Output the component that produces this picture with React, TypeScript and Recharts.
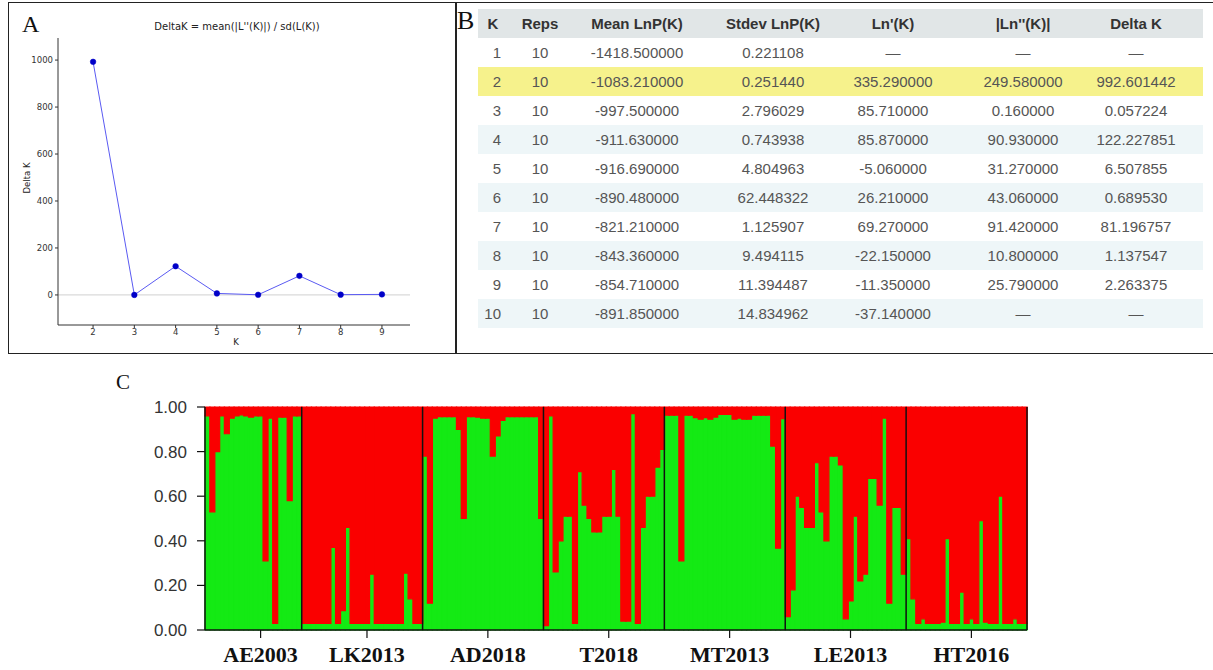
import React from "react";
import { LineChart, Line, XAxis, YAxis, ReferenceLine, BarChart, Bar } from "recharts";

// Evanno table (panel B) - also feeds panel A
const kValues = [1, 2, 3, 4, 5, 6, 7, 8, 9, 10];
const reps = [10, 10, 10, 10, 10, 10, 10, 10, 10, 10];
const meanLnP = [-1418.5, -1083.21, -997.5, -911.63, -916.69, -890.48, -821.21, -843.36, -854.71, -891.85];
const stdevLnP = [0.221108, 0.25144, 2.796029, 0.743938, 4.804963, 62.448322, 1.125907, 9.494115, 11.394487, 14.834962];
const lnPrime = [null, 335.29, 85.71, 85.87, -5.06, 26.21, 69.27, -22.15, -11.35, -37.14];
const lnDoublePrime = [null, 249.58, 0.16, 90.93, 31.27, 43.06, 91.42, 10.8, 25.79, null];
const deltaK = [null, 992.601442, 0.057224, 122.227851, 6.507855, 0.68953, 81.196757, 1.137547, 2.263375, null];
const highlightK = 2;

const deltaTicksX = [2, 3, 4, 5, 6, 7, 8, 9];
const deltaTicksY = [0, 200, 400, 600, 800, 1000];

// STRUCTURE K=2 membership (green cluster share per individual)
const populations = ["AE2003", "LK2013", "AD2018", "T2018", "MT2013", "LE2013", "HT2016"];
const ae2003 = [0.96, 0.53, 0.8, 0.96, 0.88, 0.95, 0.96, 0.965, 0.96, 0.955, 0.96, 0.96, 0.31, 0.95, 0.03, 0.955, 0.955, 0.58, 0.96, 0.96];
const lk2013 = [0.03, 0.03, 0.03, 0.03, 0.03, 0.03, 0.37, 0.03, 0.087, 0.46, 0.03, 0.03, 0.03, 0.03, 0.25, 0.03, 0.03, 0.03, 0.03, 0.03, 0.03, 0.255, 0.14, 0.03, 0.03];
const ad2018 = [0.78, 0.12, 0.95, 0.957, 0.957, 0.957, 0.957, 0.9, 0.5, 0.957, 0.957, 0.955, 0.95, 0.95, 0.78, 0.87, 0.94, 0.957, 0.957, 0.957, 0.957, 0.957, 0.957, 0.957, 0.5];
const t2018 = [0.02, 0.96, 0.26, 0.4, 0.51, 0.51, 0.03, 0.71, 0.56, 0.5, 0.44, 0.44, 0.51, 0.51, 0.72, 0.51, 0.04, 0.04, 0.97, 0.03, 0.46, 0.6, 0.6, 0.73, 0.81];
const mt2013 = [0.963, 0.963, 0.963, 0.31, 0.963, 0.963, 0.952, 0.945, 0.952, 0.945, 0.955, 0.967, 0.967, 0.967, 0.945, 0.95, 0.945, 0.945, 0.963, 0.963, 0.963, 0.963, 0.825, 0.367, 0.948];
const le2013 = [0.06, 0.18, 0.6, 0.55, 0.46, 0.46, 0.75, 0.53, 0.4, 0.78, 0.78, 0.74, 0.05, 0.13, 0.51, 0.22, 0.25, 0.68, 0.68, 0.56, 0.95, 0.12, 0.55, 0.55, 0.25];
const ht2016 = [0.41, 0.14, 0.03, 0.05, 0.03, 0.03, 0.03, 0.035, 0.41, 0.03, 0.03, 0.17, 0.03, 0.05, 0.03, 0.49, 0.035, 0.03, 0.03, 0.6, 0.03, 0.03, 0.05, 0.03, 0.03];
const membership = [ae2003, lk2013, ad2018, t2018, mt2013, le2013, ht2016];
const membershipTicks = [0, 0.2, 0.4, 0.6, 0.8, 1];

const GREEN = "#14ea14";
const RED = "#fa0000";
const serif = "'Liberation Serif', 'Times New Roman', serif";
const sans = "'Liberation Sans', Arial, sans-serif";
const mpl = "'DejaVu Sans', sans-serif";

const fmt = (v: number | null) => (v === null ? "\u2014" : v.toFixed(6));

function PanelLabel({ text, x, y, size }: { text: string; x: number; y: number; size: number }) {
  return (
    <div style={{ position: "absolute", left: x, top: y, fontFamily: serif, fontSize: size, lineHeight: 1, color: "#111" }}>
      {text}
    </div>
  );
}

function DeltaKPlot() {
  const data = kValues
    .map((k, i) => ({ k, delta: deltaK[i] }))
    .filter((d) => d.delta !== null);
  const tick = { fontSize: 8.5, fill: "#333", fontFamily: mpl };
  return (
    <div style={{ position: "absolute", left: 0, top: 0 }}>
      <LineChart width={456} height={353} data={data} margin={{ top: 38, right: 46, bottom: 8, left: 28 }}>
        <XAxis
          dataKey="k"
          type="number"
          domain={[1.15, 9.68]}
          ticks={deltaTicksX}
          allowDataOverflow
          height={20}
          axisLine={{ stroke: "#333" }}
          tickLine={{ stroke: "#333" }}
          tickSize={3}
          tickMargin={1}
          tick={tick}
        />
        <YAxis
          type="number"
          domain={[-128, 1094]}
          ticks={deltaTicksY}
          allowDataOverflow
          width={30}
          axisLine={{ stroke: "#333" }}
          tickLine={{ stroke: "#333" }}
          tickSize={3}
          tickMargin={2}
          tick={tick}
        />
        <ReferenceLine y={0} stroke="#dadada" strokeWidth={1.2} />
        <Line
          dataKey="delta"
          stroke="#5a5af2"
          strokeWidth={1}
          dot={{ r: 2.8, fill: "#0000c8", stroke: "#0000c8", strokeWidth: 0.5 }}
          isAnimationActive={false}
        />
      </LineChart>
      <div style={{ position: "absolute", left: 237, top: 21, transform: "translateX(-50%)", whiteSpace: "nowrap", fontFamily: mpl, fontSize: 10, color: "#222" }}>
        DeltaK = mean(|L''(K)|) / sd(L(K))
      </div>
      <div style={{ position: "absolute", left: 27, top: 178, transform: "translate(-50%, -50%) rotate(-90deg)", whiteSpace: "nowrap", fontFamily: mpl, fontSize: 8.5, color: "#222" }}>
        Delta K
      </div>
      <div style={{ position: "absolute", left: 236, top: 337, transform: "translateX(-50%)", fontFamily: mpl, fontSize: 8.5, color: "#222" }}>
        K
      </div>
    </div>
  );
}

const colCenters = [493, 540, 637, 773, 893, 1023, 1136];
const headers = ["K", "Reps", "Mean LnP(K)", "Stdev LnP(K)", "Ln'(K)", "|Ln''(K)|", "Delta K"];
const kColumnRight = 501;

function EvannoTable() {
  const rowH = 29;
  const left = 478;
  const width = 725;
  const cell = (text: string, cx: number, key: number, bold = false, rightEdge?: number) => (
    <div
      key={key}
      style={{
        position: "absolute",
        left: rightEdge !== undefined ? rightEdge - left : cx - left,
        top: 0,
        height: "100%",
        display: "flex",
        alignItems: "center",
        transform: rightEdge !== undefined ? "translateX(-100%)" : "translateX(-50%)",
        whiteSpace: "nowrap",
        fontWeight: bold ? 700 : 400,
        color: bold ? "#333" : "#555",
      }}
    >
      {text}
    </div>
  );
  return (
    <div style={{ position: "absolute", left, top: 9, width, fontFamily: sans, fontSize: 15 }}>
      <div style={{ position: "relative", height: rowH, background: "#e1e6e7" }}>
        {headers.map((h, i) => cell(h, colCenters[i], i, true))}
      </div>
      {kValues.map((k, r) => {
        const bg = k === highlightK ? "#f6f28c" : r % 2 === 1 ? "#eef6f8" : "#ffffff";
        const cells = [
          String(k),
          String(reps[r]),
          fmt(meanLnP[r]),
          fmt(stdevLnP[r]),
          fmt(lnPrime[r]),
          fmt(lnDoublePrime[r]),
          fmt(deltaK[r]),
        ];
        return (
          <div key={k} style={{ position: "relative", height: rowH, background: bg }}>
            {cells.map((c, i) => cell(c, colCenters[i], i, false, i === 0 ? kColumnRight : undefined))}
          </div>
        );
      })}
    </div>
  );
}

function StructurePlot() {
  const rows: { id: string; pop: string; green: number; red: number }[] = [];
  const firstIds: string[] = [];
  const tickIds: string[] = [];
  populations.forEach((pop, p) => {
    membership[p].forEach((g, i) => {
      const id = `${pop}-${i}`;
      if (i === 0) firstIds.push(id);
      if (i === Math.floor(membership[p].length / 2) + 1) tickIds.push(id);
      rows.push({ id, pop, green: g, red: 1 - g });
    });
  });
  const lastId = rows[rows.length - 1].id;

  return (
    <div style={{ position: "absolute", left: 100, top: 370 }}>
      <BarChart
        width={950}
        height={300}
        data={rows}
        barCategoryGap={0}
        barGap={0}
        margin={{ top: 37, right: 23, bottom: 0, left: 35 }}
      >
        <XAxis
          dataKey="id"
          ticks={tickIds}
          interval={0}
          height={40}
          tickFormatter={(v: string) => v.split("-")[0]}
          axisLine={{ stroke: "#111", strokeWidth: 1.5 }}
          tickLine={{ stroke: "#111", strokeWidth: 1.2 }}
          tickSize={8}
          tickMargin={8}
          tick={{ fontFamily: serif, fontWeight: 700, fontSize: 22, fill: "#111" }}
        />
        <YAxis
          type="number"
          domain={[0, 1]}
          ticks={membershipTicks}
          width={70}
          tickFormatter={(v: number) => v.toFixed(2)}
          axisLine={{ stroke: "#111", strokeWidth: 1.5 }}
          tickLine={{ stroke: "#111", strokeWidth: 1.2 }}
          tickSize={8}
          tickMargin={10}
          tick={{ fontFamily: sans, fontSize: 17, fill: "#333" }}
        />
        <Bar dataKey="green" stackId="q" fill={GREEN} stroke={GREEN} strokeWidth={1.2} isAnimationActive={false} />
        <Bar dataKey="red" stackId="q" fill={RED} stroke={RED} strokeWidth={1.2} isAnimationActive={false} />
        {firstIds.slice(1).map((id) => (
          <ReferenceLine key={id} x={id} position="start" stroke="#111" strokeWidth={1.5} />
        ))}
        <ReferenceLine x={lastId} position="end" stroke="#111" strokeWidth={1.5} />
      </BarChart>
    </div>
  );
}

export default function App() {
  return (
    <div style={{ position: "absolute", left: 0, top: 0, width: 1213, height: 670, background: "#fff", overflow: "hidden" }}>
      <div
        style={{
          position: "absolute",
          left: 8,
          top: 2,
          width: 1220,
          height: 350,
          borderTop: "1.5px solid #222",
          borderLeft: "1.5px solid #222",
          borderBottom: "1.5px solid #222",
        }}
      />
      <div style={{ position: "absolute", left: 455, top: 2, width: 1.5, height: 352, background: "#222" }} />
      <DeltaKPlot />
      <EvannoTable />
      <StructurePlot />
      <PanelLabel text="A" x={22} y={12} size={24} />
      <PanelLabel text="B" x={457} y={8} size={26} />
      <PanelLabel text="C" x={116} y={372} size={21} />
    </div>
  );
}
